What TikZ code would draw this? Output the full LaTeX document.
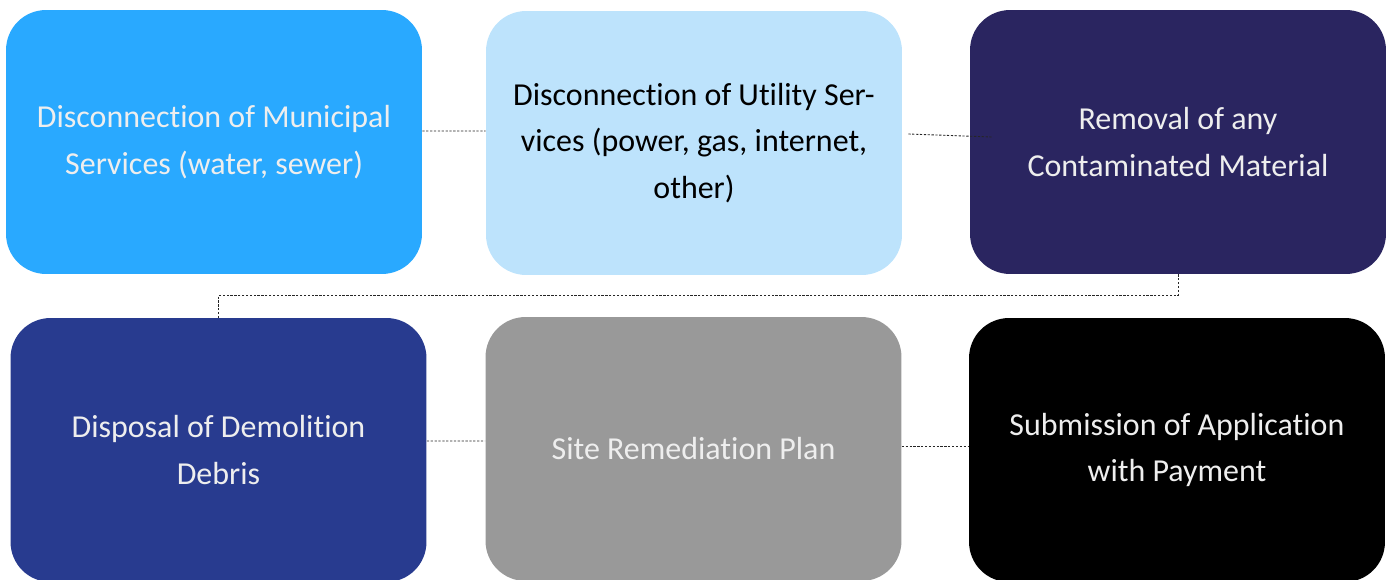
\documentclass[tikz,border=0pt]{standalone}
\usepackage{fontspec}
\setmainfont{Carlito}[Ligatures=NoCommon]
\usepackage{xcolor}
\usetikzlibrary{positioning}

\definecolor{skyblue}{HTML}{29A9FF}
\definecolor{paleblue}{HTML}{BDE3FC}
\definecolor{navy}{HTML}{2A2560}
\definecolor{royal}{HTML}{283B8F}
\definecolor{midgray}{HTML}{999999}
\definecolor{softwhite}{HTML}{EEEEEE}

\tikzset{
    stepbox/.style={rounded corners=0.8cm, minimum width=8.32cm, minimum height=5.28cm,
        align=center, font=\fontsize{18.2}{26.6}\selectfont, text=softwhite},
    link/.style={black!85, line width=0.5pt, dash pattern=on 1.3pt off 0.9pt}
}

\begin{document}
\begin{tikzpicture}[x=0.02cm, y=-0.02cm]
    \useasboundingbox (0,0) rectangle (1387,580);

    % top row
    \node[stepbox, fill=skyblue] (muni) at (214,142) {Disconnection of Municipal\\Services (water, sewer)};
    \node[stepbox, fill=paleblue, text=black] (util) at (694,143) {Disconnection of Utility Ser-\\vices (power, gas, internet,\\other)};
    \node[stepbox, fill=navy] (contam) at (1178,142) {Removal of any\\Contaminated Material};

    % bottom row
    \node[stepbox, fill=royal] (debris) at (218.5,450) {Disposal of Demolition\\Debris};
    \node[stepbox, fill=midgray] (plan) at (693.5,449) {Site Remediation Plan};
    \node[stepbox, fill=black] (submit) at (1177,450) {Submission of Application\\with Payment};

    \draw[link] ([yshift=0.22cm]muni.east) -- ([yshift=0.24cm]util.west);
    \draw[link] ([xshift=0.12cm,yshift=0.18cm]util.east) -- ([xshift=0.44cm,yshift=0.1cm]contam.west);
    \draw[link] (contam.south) -- ++(0,21) -| (debris.north);
    \draw[link] ([yshift=0.18cm]debris.east) -- ([yshift=0.16cm]plan.west);
    \draw[link] ([yshift=0.06cm]plan.east) -- ([yshift=0.08cm]submit.west);
\end{tikzpicture}
\end{document}
